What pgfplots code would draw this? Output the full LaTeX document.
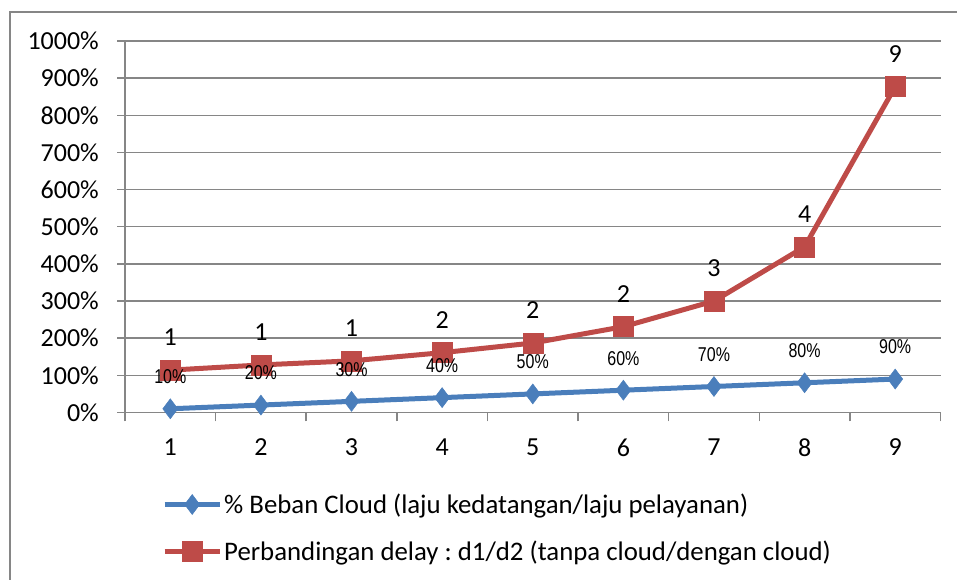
\documentclass[border=0pt]{standalone}
\usepackage{pgfplots}
\pgfplotsset{compat=1.18}
\usepackage{fontspec}
\setmainfont{Carlito}
\newfontfamily\narrowfont[FakeStretch=0.8]{Liberation Sans}
\definecolor{cblue}{RGB}{74,126,187}
\definecolor{cred}{RGB}{190,75,72}
\definecolor{cgrid}{RGB}{134,134,134}
\frenchspacing
\begin{document}
\begin{tikzpicture}[x=1bp,y=1bp]
\useasboundingbox (0,0) rectangle (957,580);
\draw[cgrid, line width=1.2bp] (10,0) -- (10,568) -- (957,568);
\begin{axis}[
  at={(125bp,167.5bp)}, anchor=south west,
  scale only axis, width=815.5bp, height=371.5bp,
  xmin=0.5, xmax=9.5, ymin=0, ymax=1000,
  clip=false,
  axis x line*=bottom, axis y line*=left,
  axis line style={cgrid, line width=1.5bp, -},
  tick align=outside,
  major tick length=8bp, minor tick length=9bp,
  tick style={cgrid, line width=1.5bp},
  every major x tick/.style={draw=none},
  ytick={0,100,...,1000},
  yticklabels={0\%,100\%,200\%,300\%,400\%,500\%,600\%,700\%,800\%,900\%,1000\%},
  xtick={1,...,9},
  xticklabels={1,2,3,4,5,6,7,8,9},
  minor xtick={0.5,1.5,...,9.5},
  ymajorgrids, grid style={cgrid, line width=1.5bp},
  /pgf/number format/assume math mode=true,
  ticklabel style={font=\fontsize{26bp}{30bp}\selectfont, text=black},
  yticklabel style={anchor=east, inner sep=0pt, xshift=-18bp},
  xticklabel style={anchor=center, inner sep=0pt, yshift=-27bp},
  legend style={at={(axis description cs:0.0454,-0.311)}, anchor=west, draw=none, fill=none,
    font=\fontsize{26.8bp}{30bp}\selectfont, inner sep=0pt, row sep=26bp, column sep=2bp,
    nodes={inner sep=0pt}, cells={anchor=west}},
  legend image code/.code={\draw[mark repeat=2,mark phase=2,#1] plot coordinates {(0bp,0bp) (27.5bp,0bp) (55bp,0bp)};},
]
\addplot[cblue, line width=5bp, mark=diamond*, mark size=10bp, mark options={solid, fill=cblue, draw=cblue, line width=0.5bp}]
  coordinates {(1,10) (2,20) (3,30) (4,40) (5,50) (6,60) (7,70) (8,80) (9,90)};
\addlegendentry{\% Beban Cloud (laju kedatangan/laju pelayanan)}
\addplot[cred, line width=5bp, mark=square*, mark size=10bp, mark options={solid, fill=cred, draw=cred, line width=0.5bp},
  point meta=explicit symbolic, nodes near coords,
  every node near coord/.append style={anchor=center, yshift=33bp, text=black, font=\fontsize{26bp}{30bp}\selectfont}]
  coordinates {(1,114)[1] (2,128)[1] (3,139)[1] (4,161)[2] (5,187)[2] (6,231)[2] (7,300)[3] (8,446)[4] (9,877)[9]};
\addlegendentry{Perbandingan delay : d1/d2 (tanpa cloud/dengan cloud)}
\addplot[draw=none, mark=none, forget plot,
  point meta=explicit symbolic, nodes near coords,
  every node near coord/.append style={anchor=center, yshift=32bp, text=black, font=\narrowfont\fontsize{20bp}{24bp}\selectfont}]
  coordinates {(1,10)[10\%] (2,20)[20\%] (3,30)[30\%] (4,40)[40\%] (5,50)[50\%] (6,60)[60\%] (7,70)[70\%] (8,80)[80\%] (9,90)[90\%]};
\end{axis}
\end{tikzpicture}
\end{document}
